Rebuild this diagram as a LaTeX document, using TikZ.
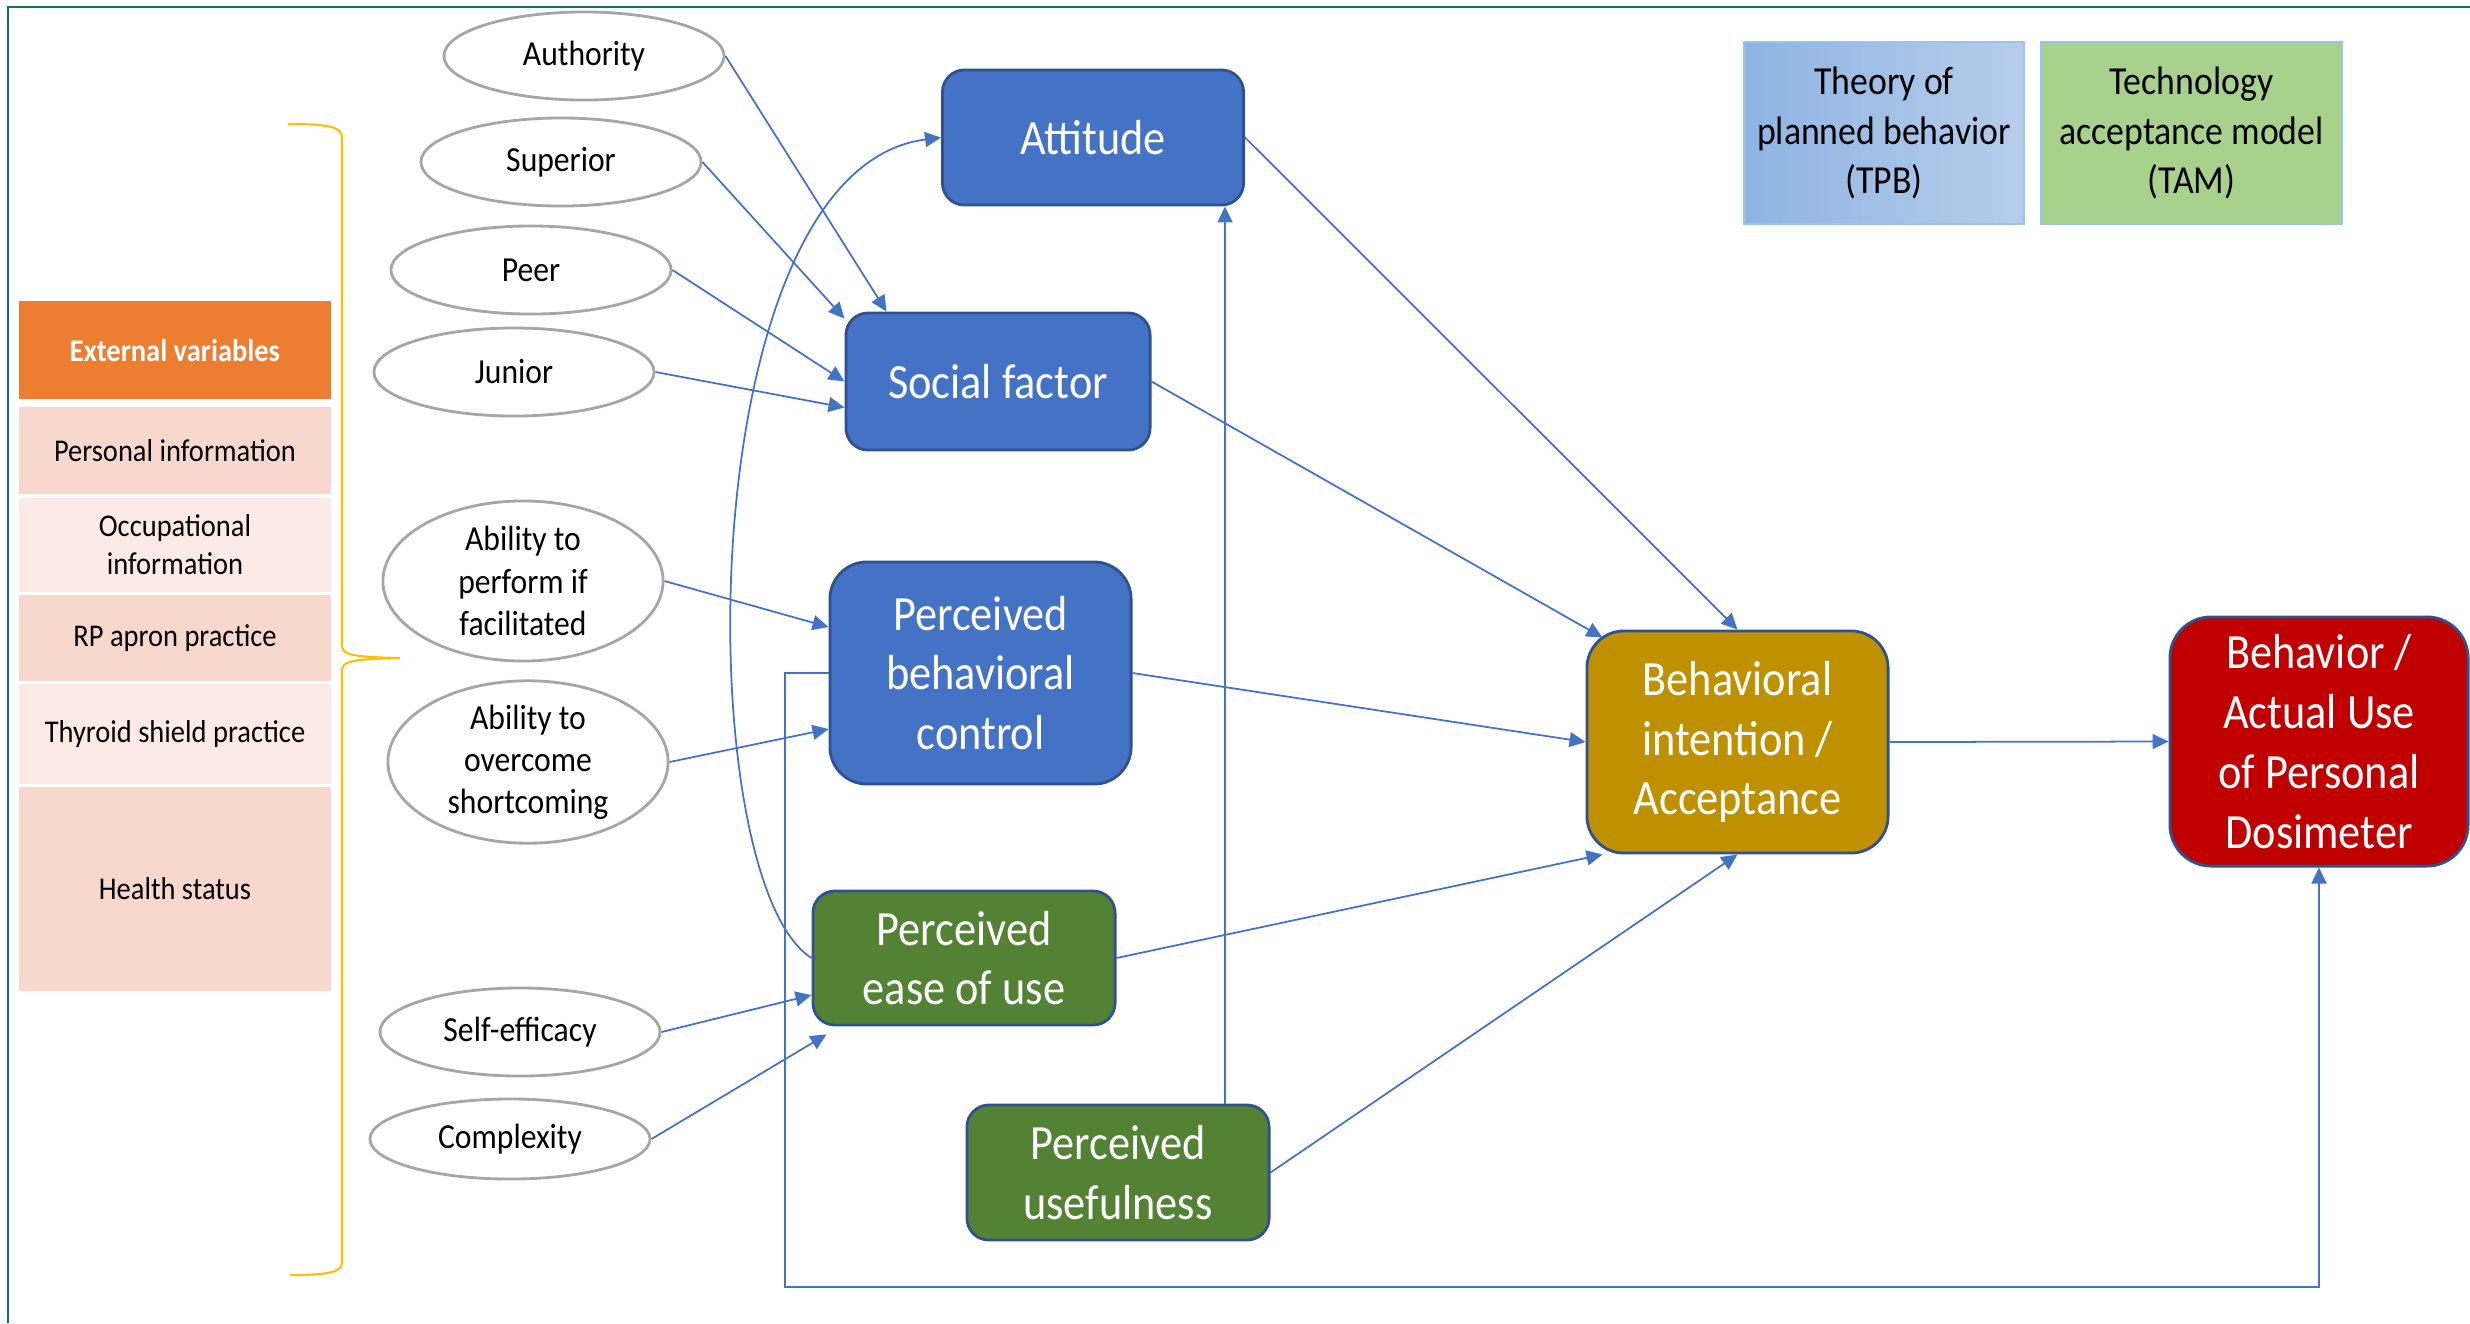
\documentclass[tikz,border=0pt]{standalone}
\usepackage{fontspec}
\setmainfont{Carlito}[FakeStretch=0.9]
\usetikzlibrary{arrows.meta,shapes.geometric,calc}

\definecolor{tbblue}{HTML}{4472C4}
\definecolor{boxline}{HTML}{2F528F}
\definecolor{tamgreen}{HTML}{548235}
\definecolor{intgold}{HTML}{BF9000}
\definecolor{usered}{HTML}{C00000}
\definecolor{ovalgray}{HTML}{A6A6A6}
\definecolor{bracegold}{HTML}{FFC000}
\definecolor{frameteal}{HTML}{1B6B6B}
\definecolor{extorange}{HTML}{ED7D31}
\definecolor{salmon}{HTML}{F8D7CC}
\definecolor{blush}{HTML}{FBEAE5}
\definecolor{tpbleft}{HTML}{8EB4E3}
\definecolor{tpbright}{HTML}{B7CDEA}
\definecolor{tamfill}{HTML}{A9D18E}
\definecolor{keyline}{HTML}{9DC3E6}

\begin{document}
\begin{tikzpicture}[x=0.01cm,y=-0.01cm,
  conn/.style={draw=tbblue,line width=0.5pt,-{Triangle[length=0.16cm,width=0.15cm]}},
  factor/.style={ellipse,draw=ovalgray,line width=0.8pt,fill=white,minimum width=2.8cm,
    minimum height=0.88cm,inner sep=0pt,align=center,font=\fontsize{10}{12}\selectfont},
  construct/.style={rectangle,rounded corners=0.22cm,draw=boxline,line width=0.8pt,text=white,
    minimum width=3.01cm,minimum height=1.35cm,inner sep=0pt,align=center,
    font=\fontsize{14}{17}\selectfont},
  extvar/.style={rectangle,minimum width=3.12cm,inner sep=0pt,align=center,
    font=\fontsize{9}{10.8}\selectfont},
  model/.style={rectangle,draw=keyline,line width=0.6pt,minimum height=1.82cm,inner sep=0pt,
    align=center,font=\fontsize{11.3}{14}\selectfont}]

\useasboundingbox (0,0) rectangle (2470,1323);
\draw[frameteal,line width=0.7pt] (8,1323) -- (8,7) -- (2470,7);

% external variables
\node[extvar,fill=extorange,text=white,minimum height=0.98cm,font=\fontsize{9}{10.8}\selectfont\bfseries] (ext) at (175,350) {External variables};
\node[extvar,fill=salmon,minimum height=0.87cm] (pers) at (175,450.5) {Personal information};
\node[extvar,fill=blush,minimum height=0.94cm] (occ) at (175,545) {Occupational\\information};
\node[extvar,fill=salmon,minimum height=0.86cm] (rp) at (175,638) {RP apron practice};
\node[extvar,fill=blush,minimum height=1.0cm] (thy) at (175,734) {Thyroid shield practice};
\node[extvar,fill=salmon,minimum height=2.04cm] (hlth) at (175,889) {Health status};

\draw[bracegold,line width=0.6pt] (288,124) .. controls (330,124) and (342,127) .. (342,138)
  -- (342,645) .. controls (342,654) and (348,657) .. (400,658)
  .. controls (348,659) and (342,662) .. (342,671)
  -- (342,1262) .. controls (342,1272) and (330,1275) .. (290,1275);

% factors
\node[factor] (auth) at (584,56) {Authority};
\node[factor] (sup) at (561,162) {Superior};
\node[factor] (peer) at (531,270) {Peer};
\node[factor] (jun) at (514,372) {Junior};
\node[factor,minimum height=1.6cm] (abl1) at (523,581) {Ability to\\perform if\\facilitated};
\node[factor,minimum height=1.62cm] (abl2) at (528,762) {Ability to\\overcome\\shortcoming};
\node[factor] (self) at (520,1032) {Self-efficacy};
\node[factor,minimum height=0.8cm] (cplx) at (510,1139) {Complexity};

% constructs
\node[construct,fill=tbblue] (att) at (1093,137.5) {Attitude};
\node[construct,fill=tbblue,minimum width=3.04cm,minimum height=1.37cm] (soc) at (998,381.5) {Social factor};
\node[construct,fill=tbblue,minimum height=2.22cm,rounded corners=0.37cm] (pbc) at (980.5,673) {Perceived\\behavioral\\control};
\node[construct,fill=tamgreen,minimum width=3.02cm,minimum height=1.34cm] (peou) at (964,958) {Perceived\\ease of use};
\node[construct,fill=tamgreen,minimum width=3.02cm] (pu) at (1118,1172.5) {Perceived\\usefulness};
\node[construct,fill=intgold,minimum height=2.22cm,rounded corners=0.37cm] (bi) at (1737.5,742) {Behavioral\\intention /\\Acceptance};
\node[construct,fill=usered,minimum width=2.98cm,minimum height=2.49cm,rounded corners=0.41cm] (beh) at (2319,741.5) {Behavior /\\Actual Use\\of Personal\\Dosimeter};

\node[model,minimum width=2.8cm,left color=tpbleft,right color=tpbright] (tpb) at (1884,133) {Theory of\\planned behavior\\(TPB)};
\node[model,minimum width=3.01cm,fill=tamfill] (tam) at (2191.5,133) {Technology\\acceptance model\\(TAM)};

\draw[conn] (auth.east) -- ($(soc.north west)+(42,0)$);
\draw[conn] (sup.east) -- ($(soc.north west)+(0,7)$);
\draw[conn] (peer.east) -- (soc.west);
\draw[conn] (jun.east) -- ($(soc.west)+(0,26)$);
\draw[conn] (abl1.east) -- ($(pbc.west)+(0,-46)$);
\draw[conn] (abl2.east) -- ($(pbc.west)+(0,56)$);
\draw[conn] (self.east) -- ($(peou.west)+(0,37)$);
\draw[conn] (cplx.east) -- ($(peou.south west)+(15,8)$);

\draw[conn] (peou.west) .. controls +(-123,-78) and +(-252,32) .. (att.west);

\coordinate (puTop) at ($(pu.north)+(107,0)$);
\draw[conn] (puTop) -- (puTop |- att.south);

\coordinate (fb) at (785,1287);
\draw[conn] (pbc.west) -| (fb) -| (beh.south);

\draw[conn] (att.east) -- (bi.north);
\draw[conn] (soc.east) -- ($(bi.north west)+(17,8)$);
\draw[conn] (pbc.east) -- (bi.west);
\draw[conn] (peou.east) -- ($(bi.south west)+(17,0)$);
\draw[conn] (pu.east) -- (bi.south);
\draw[conn] (bi.east) -- (beh.west);

\end{tikzpicture}
\end{document}
